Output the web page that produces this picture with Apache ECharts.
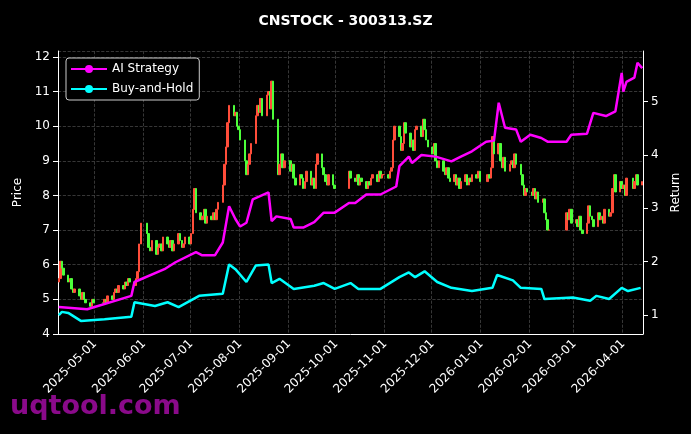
<!DOCTYPE html>
<html><head><meta charset="utf-8">
<script src="https://cdn.jsdelivr.net/npm/echarts@6/dist/echarts.min.js"></script>
<style>html,body{margin:0;background:#000}#c{width:691px;height:434px}</style>
</head><body><div id="c"></div>
<script>
const startDate = '2025-04-08', endDate = '2026-04-13';
const holidays = ['2025-05-01','2025-05-02','2025-05-05','2025-06-02','2025-10-01','2025-10-02','2025-10-03','2025-10-06','2025-10-07','2025-10-08','2026-01-01','2026-01-02','2026-02-16','2026-02-17','2026-02-18','2026-02-19','2026-02-20','2026-02-23','2026-04-06'];
const priceTicks = [4,5,6,7,8,9,10,11,12];
const returnTicks = [1,2,3,4,5];
const close202504 = [5.6,6.1,5.9,5.7,5.5,5.6,5.3,5.2,5.3,5.1,5.0,5.2,5.0,4.9,4.8,5.0,4.9];
const close202505 = [4.9,5.0,4.9,5.1,5.0,5.2,5.3,5.2,5.4,5.3,5.5,5.4,5.6,5.5,5.4,5.6,5.8,6.6,7.2];
const close202506 = [6.9,6.5,6.4,6.7,6.3,6.5,6.6,6.4,6.8,6.6,6.5,6.7,6.4,6.6,6.9,6.7,6.5,6.6,6.8,6.6];
const close202507 = [6.9,7.6,8.2,7.5,7.3,7.4,7.6,7.2,7.4,7.3,7.5,7.3,7.6,7.8,8.3,8.9,9.4,10.1,10.6,10.3,10.4,10.0,9.9];
const close202508 = [9.6,9.0,8.6,8.9,9.2,9.5,10.3,10.6,10.4,10.8,10.3,10.9,11.0,10.5,11.3,10.2,8.6,8.9,9.2,8.8,9.0];
const close202509 = [9.0,8.7,8.9,8.5,8.3,8.6,8.5,8.2,8.4,8.7,8.3,8.5,8.2,8.9,9.2,8.8,8.6,8.4,8.3,8.6,8.3,8.2];
const close202510 = [8.7,8.5,8.4,8.6,8.3,8.5,8.4,8.2,8.4,8.3,8.5,8.6,8.4,8.7,8.5,8.6,8.6];
const close202511 = [8.5,8.7,8.8,9.6,10.0,9.7,9.3,9.5,10.1,9.8,9.4,9.6,9.3,9.9,10.0,9.7,10.2,9.9,9.6,9.4];
const close202512 = [9.2,9.5,9.0,8.8,9.0,8.7,8.6,8.8,8.5,8.4,8.6,8.3,8.5,8.2,8.4,8.6,8.3,8.5,8.4,8.6,8.5,8.7,8.4];
const close202601 = [8.6,8.5,8.8,9.7,9.2,9.5,9.0,8.8,9.1,8.7,8.9,9.0,8.8,9.2,8.9,8.6,8.3,8.0,8.2,8.1];
const close202602 = [8.0,8.2,7.9,8.1,7.8,7.9,7.5,7.3,7.0,7.0,7.5,7.3,7.6,7.2];
const close202603 = [7.3,7.1,7.4,7.0,6.9,7.2,7.7,7.4,7.3,7.1,7.5,7.3,7.4,7.2,7.6,7.4,7.5,8.2,8.6,8.1,8.4,8.2];
const close202604 = [8.3,8.0,8.5,8.2,8.4,8.6,8.3,8.4];
const closeByMonth = {'2025-04':close202504,'2025-05':close202505,'2025-06':close202506,'2025-07':close202507,'2025-08':close202508,'2025-09':close202509,'2025-10':close202510,'2025-11':close202511,'2025-12':close202512,'2026-01':close202601,'2026-02':close202602,'2026-03':close202603,'2026-04':close202604};
const strategyPts = [['2025-04-08',1.15],['2025-04-26',1.11],['2025-05-24',1.36],['2025-05-26',1.62],['2025-06-14',1.86],['2025-06-21',1.99],['2025-07-04',2.18],['2025-07-08',2.12],['2025-07-16',2.12],['2025-07-21',2.36],['2025-07-25',3.04],['2025-07-29',2.8],['2025-08-01',2.66],['2025-08-05',2.73],['2025-08-09',3.17],['2025-08-19',3.30],['2025-08-21',2.76],['2025-08-24',2.85],['2025-09-02',2.80],['2025-09-04',2.64],['2025-09-10',2.64],['2025-09-17',2.74],['2025-09-23',2.92],['2025-09-30',2.92],['2025-10-09',3.1],['2025-10-13',3.1],['2025-10-20',3.26],['2025-10-29',3.26],['2025-11-08',3.41],['2025-11-10',3.79],['2025-11-16',3.97],['2025-11-18',3.85],['2025-11-24',4.0],['2025-12-03',3.97],['2025-12-13',3.88],['2025-12-19',3.97],['2025-12-26',4.07],['2026-01-04',4.25],['2026-01-09',4.27],['2026-01-12',4.98],['2026-01-16',4.51],['2026-01-23',4.48],['2026-01-26',4.25],['2026-02-01',4.38],['2026-02-08',4.32],['2026-02-12',4.25],['2026-02-24',4.25],['2026-02-27',4.38],['2026-03-09',4.40],['2026-03-13',4.79],['2026-03-21',4.73],['2026-03-27',4.82],['2026-03-31',5.54],['2026-04-01',5.19],['2026-04-03',5.37],['2026-04-08',5.45],['2026-04-10',5.73],['2026-04-13',5.63]];
const holdPts = [['2025-04-08',1.0],['2025-04-10',1.06],['2025-04-14',1.04],['2025-04-22',0.89],['2025-05-07',0.92],['2025-05-24',0.97],['2025-05-26',1.24],['2025-06-08',1.17],['2025-06-16',1.24],['2025-06-23',1.15],['2025-07-06',1.36],['2025-07-21',1.40],['2025-07-25',1.95],['2025-07-29',1.86],['2025-08-05',1.62],['2025-08-11',1.93],['2025-08-19',1.95],['2025-08-21',1.60],['2025-08-26',1.68],['2025-09-04',1.49],['2025-09-17',1.55],['2025-09-23',1.60],['2025-09-30',1.49],['2025-10-10',1.60],['2025-10-15',1.49],['2025-10-29',1.49],['2025-11-10',1.71],['2025-11-16',1.80],['2025-11-20',1.71],['2025-11-26',1.82],['2025-12-04',1.62],['2025-12-13',1.51],['2025-12-26',1.45],['2026-01-08',1.51],['2026-01-11',1.75],['2026-01-21',1.65],['2026-01-26',1.51],['2026-02-08',1.49],['2026-02-10',1.30],['2026-02-28',1.33],['2026-03-11',1.27],['2026-03-15',1.36],['2026-03-23',1.30],['2026-03-31',1.51],['2026-04-04',1.45],['2026-04-12',1.51]];

function fmt(d){return d.toISOString().slice(0,10);}
const days=[]; for(let d=new Date(startDate+'T00:00:00Z'); fmt(d)<=endDate; d.setUTCDate(d.getUTCDate()+1)) days.push(fmt(d));
const candle=[]; const idx={}; let prev=null;
days.forEach(ds=>{
  const wd=new Date(ds+'T00:00:00Z').getUTCDay();
  const m=ds.slice(0,7);
  if(wd===0||wd===6||holidays.includes(ds)){candle.push('-');return;}
  idx[m]=(idx[m]||0); const arr=closeByMonth[m]; const c=arr[idx[m]]; idx[m]++;
  if(c===undefined){candle.push('-');return;}
  const o=prev===null?c-0.1:prev; prev=c;
  candle.push([o,c,Math.min(o,c),Math.max(o,c)]);
});
function toCat(pts){const mp=Object.fromEntries(pts);return days.map(d=>mp[d]!==undefined?mp[d]:null);}
const chart=echarts.init(document.getElementById('c'));
const monthFirst=(i,v)=>v.slice(8)==='01';
const F='DejaVu Sans';
chart.setOption({
  backgroundColor:'#000',animation:false,
  title:{text:'CNSTOCK - 300313.SZ',left:'center',top:9,textStyle:{color:'#fff',fontSize:14,fontWeight:'bold',fontFamily:F}},
  graphic:[{type:'text',left:10,top:393,style:{text:'uqtool.com',fill:'#8a0a8a',font:'bold 27px DejaVu Sans'}}],
  legend:{left:66,top:58,orient:'vertical',itemGap:8,backgroundColor:'#000',borderColor:'#ccc',borderWidth:1,borderRadius:3,padding:[5,6,5,4],itemWidth:36,itemHeight:10,textStyle:{color:'#fff',fontSize:12,fontFamily:F},data:['AI Strategy','Buy-and-Hold']},
  grid:{left:58,right:48,top:51,bottom:100,outerBoundsMode:'none',containLabel:false},
  xAxis:{type:'category',data:days,boundaryGap:true,
    axisLine:{lineStyle:{color:'#fff'}},
    axisTick:{interval:monthFirst,alignWithLabel:true,lineStyle:{color:'#fff'}},
    axisLabel:{interval:monthFirst,rotate:45,color:'#fff',fontSize:12,fontFamily:F},
    splitLine:{show:true,interval:monthFirst,lineStyle:{color:'#444',type:'dashed',width:0.8}}},
  yAxis:[{type:'value',min:4,max:12.17,interval:1,name:'Price',nameLocation:'middle',nameGap:34,nameTextStyle:{color:'#fff',fontSize:12,fontFamily:F},
    axisLine:{show:true,lineStyle:{color:'#fff'}},axisTick:{show:true},axisLabel:{color:'#fff',fontSize:12,showMaxLabel:false,fontFamily:F},
    splitLine:{lineStyle:{color:'#444',type:'dashed',width:0.8}}},
   {type:'value',min:0.645,max:5.95,name:'Return',nameLocation:'middle',nameGap:26,nameTextStyle:{color:'#fff',fontSize:12,fontFamily:F},
    axisLine:{show:true,lineStyle:{color:'#fff'}},axisTick:{show:true,customValues:returnTicks},axisLabel:{color:'#fff',fontSize:12,customValues:returnTicks,fontFamily:F},splitLine:{show:false}}],
  series:[
    {type:'candlestick',data:candle,barWidth:2,itemStyle:{color:'#ff4d3a',color0:'#4dff3a',borderColor:'#ff4d3a',borderColor0:'#4dff3a',borderWidth:1}},
    {name:'AI Strategy',type:'line',yAxisIndex:1,data:toCat(strategyPts),connectNulls:true,showSymbol:false,symbol:'circle',symbolSize:5,itemStyle:{color:'#ff00ff'},lineStyle:{color:'#ff00ff',width:2.5}},
    {name:'Buy-and-Hold',type:'line',yAxisIndex:1,data:toCat(holdPts),connectNulls:true,showSymbol:false,symbol:'circle',symbolSize:5,itemStyle:{color:'#00ffff'},lineStyle:{color:'#00ffff',width:2.5}}
  ]
});
</script></body></html>
